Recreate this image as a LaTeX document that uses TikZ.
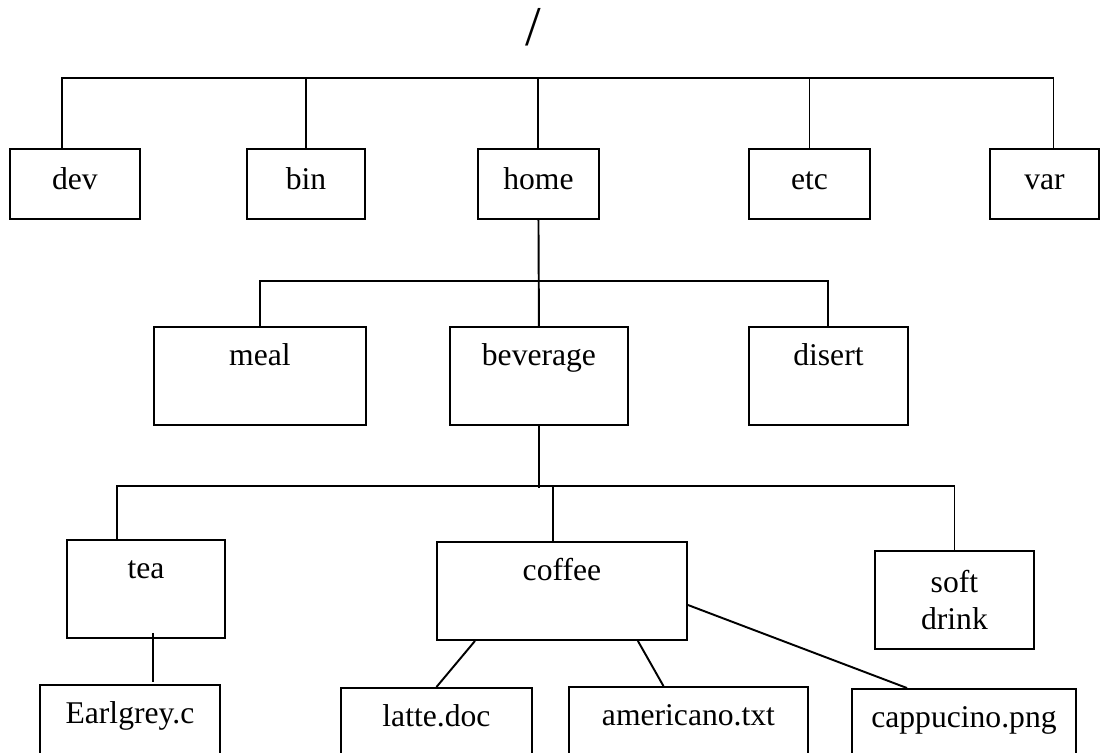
\documentclass[tikz,border=0pt]{standalone}
\usepackage{fontspec}
\setmainfont{Liberation Serif}
\usetikzlibrary{calc}

\tikzset{
  dir/.style={draw, line width=1.1pt, anchor=north west, inner sep=0pt,
    font=\fontsize{18}{21}\selectfont},
  top/.style={dir, text height=0.82cm, text depth=0.58cm},
  mid/.style={dir, text height=0.78cm, text depth=1.18cm},
  leaf/.style={dir, text height=0.78cm, text depth=1.5cm}
}

\begin{document}
\begin{tikzpicture}[x=0.02cm, y=-0.02cm, line width=1.1pt]
    \useasboundingbox (0,0) rectangle (1101,752);

    \node[inner sep=0pt, font=\fontsize{32}{32}\selectfont] (root) at (533,27) {/};

    % first level
    \node[top, minimum width=2.6cm] (dev) at (9,148) {dev};
    \node[top, minimum width=2.36cm] (bin) at (246,148) {bin};
    \node[top, minimum width=2.42cm] (home) at (477,148) {home};
    \node[top, minimum width=2.42cm] (etc) at (748,148) {etc};
    \node[top, minimum width=2.18cm] (var) at (989,148) {var};

    % inside home
    \node[mid, minimum width=4.24cm] (meal) at (153,326) {meal};
    \node[mid, minimum width=3.56cm] (beverage) at (449,326) {beverage};
    \node[mid, minimum width=3.18cm] (disert) at (748,326) {disert};

    % inside beverage
    \node[mid, minimum width=3.16cm] (tea) at (66,539) {tea};
    \node[mid, minimum width=5cm] (coffee) at (436,541) {coffee};
    \node[dir, minimum width=3.18cm, minimum height=1.96cm, align=center] (soft) at (874,550) {soft\\drink};

    % files
    \node[leaf, minimum width=3.6cm] (earlgrey) at (39,684) {Earlgrey.c};
    \node[leaf, minimum width=3.82cm] (latte) at (340,687) {latte.doc};
    \node[leaf, minimum width=4.78cm] (americano) at (568,686) {americano.txt};
    \node[leaf, minimum width=4.48cm] (cappucino) at (851,688) {cappucino.png};

    \draw ($(dev.north)+(-13,0)$) -- ++(0,-70) -| ($(var.north)+(9,0)$);
    \draw (bin.north) -- ++(0,-70);
    \draw (home.north) -- ++(0,-70);
    \draw (etc.north) -- ++(0,-70);

    \draw (home.south) -- (beverage.north);
    \draw (meal.north) -- ++(0,-45) -| (disert.north);

    \draw (beverage.south) -- ++(0,62);
    \draw ($(tea.north west)+(51,0)$) -- ++(0,-53) -| (soft.north);
    \draw ($(coffee.north)+(-9,0)$) -- ++(0,-55);

    \draw ($(tea.south)+(7,-6)$) -- ($(tea.south)+(7,43)$);
    \draw ($(coffee.south west)+(39,0)$) -- (latte.north);
    \draw ($(coffee.south east)+(-50,0)$) -- ($(americano.north)+(-25,0)$);
    \draw ($(coffee.east)+(0,14)$) -- ($(cappucino.north)+(-57,0)$);
\end{tikzpicture}
\end{document}
